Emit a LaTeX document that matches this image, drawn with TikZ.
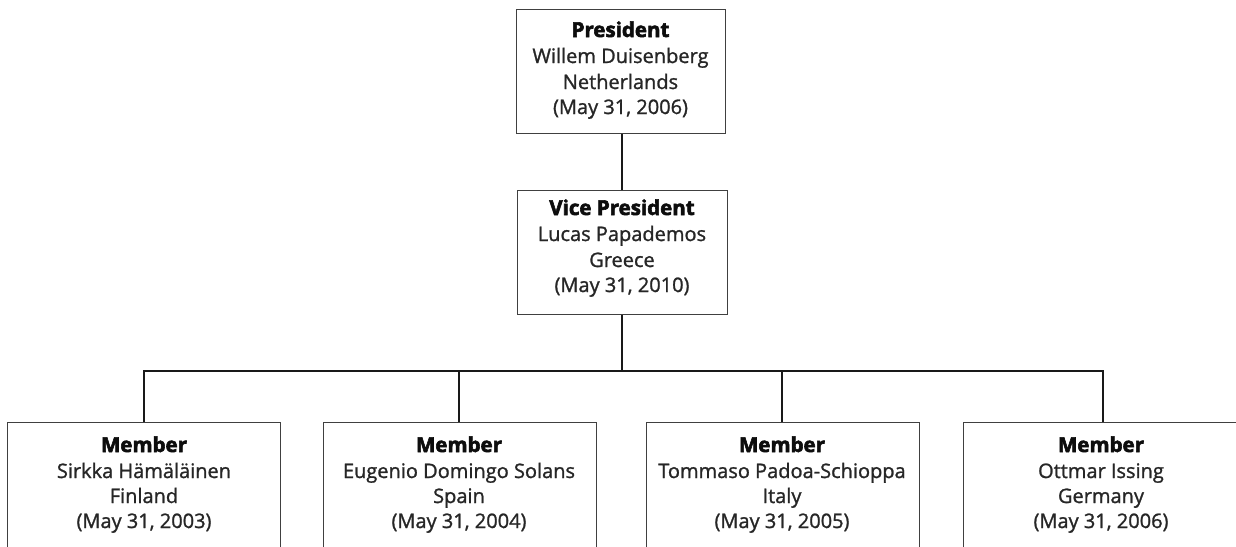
\documentclass[tikz,border=0pt]{standalone}
\usepackage{fontspec}
\setmainfont{Open Sans}
\newfontfamily\bodyfont{Open Sans}[FakeBold=1.2]
\newfontfamily\headfont{Open Sans Bold}[FakeBold=2.8]
\begin{document}
\begin{tikzpicture}[x=1pt,y=-1pt,
  box/.style={draw=black!75, line width=1.3pt, fill=white, rectangle, inner sep=0pt, anchor=north west},
  conn/.style={draw=black!90, line width=2.8pt},
  head/.style={anchor=base, inner sep=0pt, font=\fontsize{20.5}{22}\headfont, text=black!95},
  body/.style={anchor=base, inner sep=0pt, font=\fontsize{20}{22}\bodyfont, text=black!85}]
\useasboundingbox (0,0) rectangle (1236,546);
\clip (0,0) rectangle (1236,546);
\fill[white] (0,0) rectangle (1236,546);
\coordinate (hl) at (144,371);
\coordinate (hr) at (1103,371);
\coordinate (hm) at (622,371);
% boxes
\node[box, minimum width=209pt, minimum height=124pt] (pres) at (516,9) {};
\node[box, minimum width=210pt, minimum height=124pt] (vp) at (517,190) {};
\node[box, minimum width=273pt, minimum height=160pt] (m1) at (7,422) {};
\node[box, minimum width=273pt, minimum height=160pt] (m2) at (323,422) {};
\node[box, minimum width=273pt, minimum height=160pt] (m3) at (646,422) {};
\node[box, minimum width=273pt, minimum height=160pt] (m4) at (963,422) {};
% connectors
\draw[conn] (pres.south -| hm) -- (vp.north -| hm);
\draw[conn] (vp.south -| hm) -- (hm);
\draw[conn] (m1.north -| hl) -- (hl) -- (hr) -- (m4.north -| hr);
\draw[conn] (hl -| 459,0) coordinate (d2) -- (m2.north -| d2);
\draw[conn] (hl -| 782,0) coordinate (d3) -- (m3.north -| d3);
% texts
\node[head] (pres-t) at (620.5,37) {President};
\node[body] (pres-n) at (620.5,63) {Willem Duisenberg};
\node[body] (pres-c) at (620.5,89) {Netherlands};
\node[body] (pres-d) at (620.5,114) {(May 31, 2006)};
\node[head] (vp-t) at (622,215) {Vice President};
\node[body] (vp-n) at (622,241) {Lucas Papademos};
\node[body] (vp-c) at (622,267) {Greece};
\node[body] (vp-d) at (622,292) {(May 31, 2010)};
\node[head] (m1-t) at (144,452) {Member};
\node[body] (m1-n) at (144,478) {Sirkka Hämäläinen};
\node[body] (m1-c) at (144,503) {Finland};
\node[body] (m1-d) at (144,528) {(May 31, 2003)};
\node[head] (m2-t) at (459,452) {Member};
\node[body] (m2-n) at (459,478) {Eugenio Domingo Solans};
\node[body] (m2-c) at (459,503) {Spain};
\node[body] (m2-d) at (459,528) {(May 31, 2004)};
\node[head] (m3-t) at (782,452) {Member};
\node[body] (m3-n) at (782,478) {Tommaso Padoa-Schioppa};
\node[body] (m3-c) at (782,503) {Italy};
\node[body] (m3-d) at (782,528) {(May 31, 2005)};
\node[head] (m4-t) at (1101,452) {Member};
\node[body] (m4-n) at (1101,478) {Ottmar Issing};
\node[body] (m4-c) at (1101,503) {Germany};
\node[body] (m4-d) at (1101,528) {(May 31, 2006)};
\end{tikzpicture}
\end{document}
